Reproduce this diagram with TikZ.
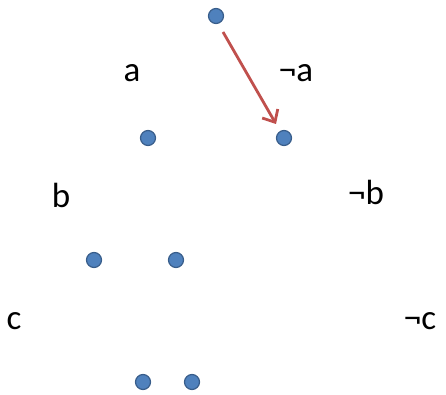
\documentclass[tikz,border=0pt]{standalone}
\usepackage{fontspec}
\setmainfont{Carlito}
\usetikzlibrary{arrows.meta}
\definecolor{dotfill}{HTML}{4F81BD}
\definecolor{dotline}{HTML}{385D8A}
\definecolor{arrowred}{HTML}{C0504D}
\begin{document}
\begin{tikzpicture}[x=1pt,y=-1pt,
  dot/.style={circle,fill=dotfill,draw=dotline,line width=1.2pt,minimum size=15pt,inner sep=0pt},
  lbl/.style={font=\fontsize{35}{40}\selectfont,inner sep=0pt},
  redarrow/.style={draw=arrowred,line width=2.8pt,-{Straight Barb[length=10pt,width=18pt,line width=2.8pt]}}]
\useasboundingbox (0,0) rectangle (446,395);
\node[dot] (r) at (216,16) {};
\node[dot] (n1) at (148,138) {};
\node[dot] (n2) at (284,138) {};
\node[dot] (n3) at (94,260) {};
\node[dot] (n4) at (176,260) {};
\node[dot] (n5) at (143,382) {};
\node[dot] (n6) at (192,382) {};
\node[lbl] (la) at (132,73) {a};
\node[lbl] (lna) at (296,73) {¬a};
\node[lbl] (lb) at (61,195) {b};
\node[lbl] (lnb) at (366,192) {¬b};
\node[lbl] (lc) at (14,321) {c};
\node[lbl] (lnc) at (420,321) {¬c};
\coordinate (s) at (223,32);
\coordinate (t) at (276,124);
\draw[redarrow] (s) -- (t);
\end{tikzpicture}
\end{document}
